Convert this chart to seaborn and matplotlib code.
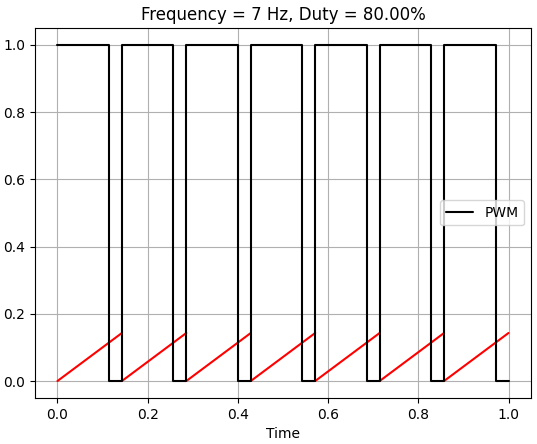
import numpy as np
import pandas as pd
import matplotlib
matplotlib.use("Agg")
import matplotlib.pyplot as plt
import seaborn as sns

# edges (7 periods over 1 s, 80% duty)
period_start = [0.0, 0.1429, 0.2857, 0.4286, 0.5714, 0.7143, 0.8571]
period_end = [0.1429, 0.2857, 0.4286, 0.5714, 0.7143, 0.8571, 1.0]
high_end = [0.1143, 0.2571, 0.4000, 0.5429, 0.6857, 0.8286, 0.9714]
saw_peak = [0.1429, 0.1429, 0.1429, 0.1429, 0.1429, 0.1429, 0.1429]

# PWM step trace
pwm_t, pwm_v = [], []
for s, h, e in zip(period_start, high_end, period_end):
    pwm_t += [s, h, h, e]
    pwm_v += [1, 1, 0, 0]
pwm = pd.DataFrame({"Time": pwm_t, "value": pwm_v})

# sawtooth carrier, one segment per period
saw = pd.DataFrame({
    "Time": [x for s, e in zip(period_start, period_end) for x in (s, e)],
    "value": [y for p in saw_peak for y in (0.0, p)],
    "seg": [i for i in range(len(period_start)) for _ in range(2)],
})

# plain matplotlib look (black text, grey grid)
sns.set_style("ticks", {"axes.edgecolor": "black", "text.color": "black",
                        "axes.labelcolor": "black", "xtick.color": "black",
                        "ytick.color": "black", "grid.color": "#b0b0b0"})
fig, ax = plt.subplots(figsize=(5.37, 4.44), dpi=100)
fig.subplots_adjust(left=0.065, right=0.989, top=0.937, bottom=0.104)

sns.lineplot(data=saw, x="Time", y="value", units="seg", estimator=None,
             sort=False, color="red", linewidth=1.5, ax=ax)
sns.lineplot(data=pwm, x="Time", y="value", estimator=None, sort=False,
             color="black", linewidth=1.5, label="PWM", ax=ax)

ax.set_title("Frequency = 7 Hz, Duty = 80.00%")
ax.set_xlabel("Time")
ax.set_ylabel("")
ax.grid(True, color="#b0b0b0", linewidth=0.8)
ax.legend(loc="center right")

plt.savefig("out.png")
